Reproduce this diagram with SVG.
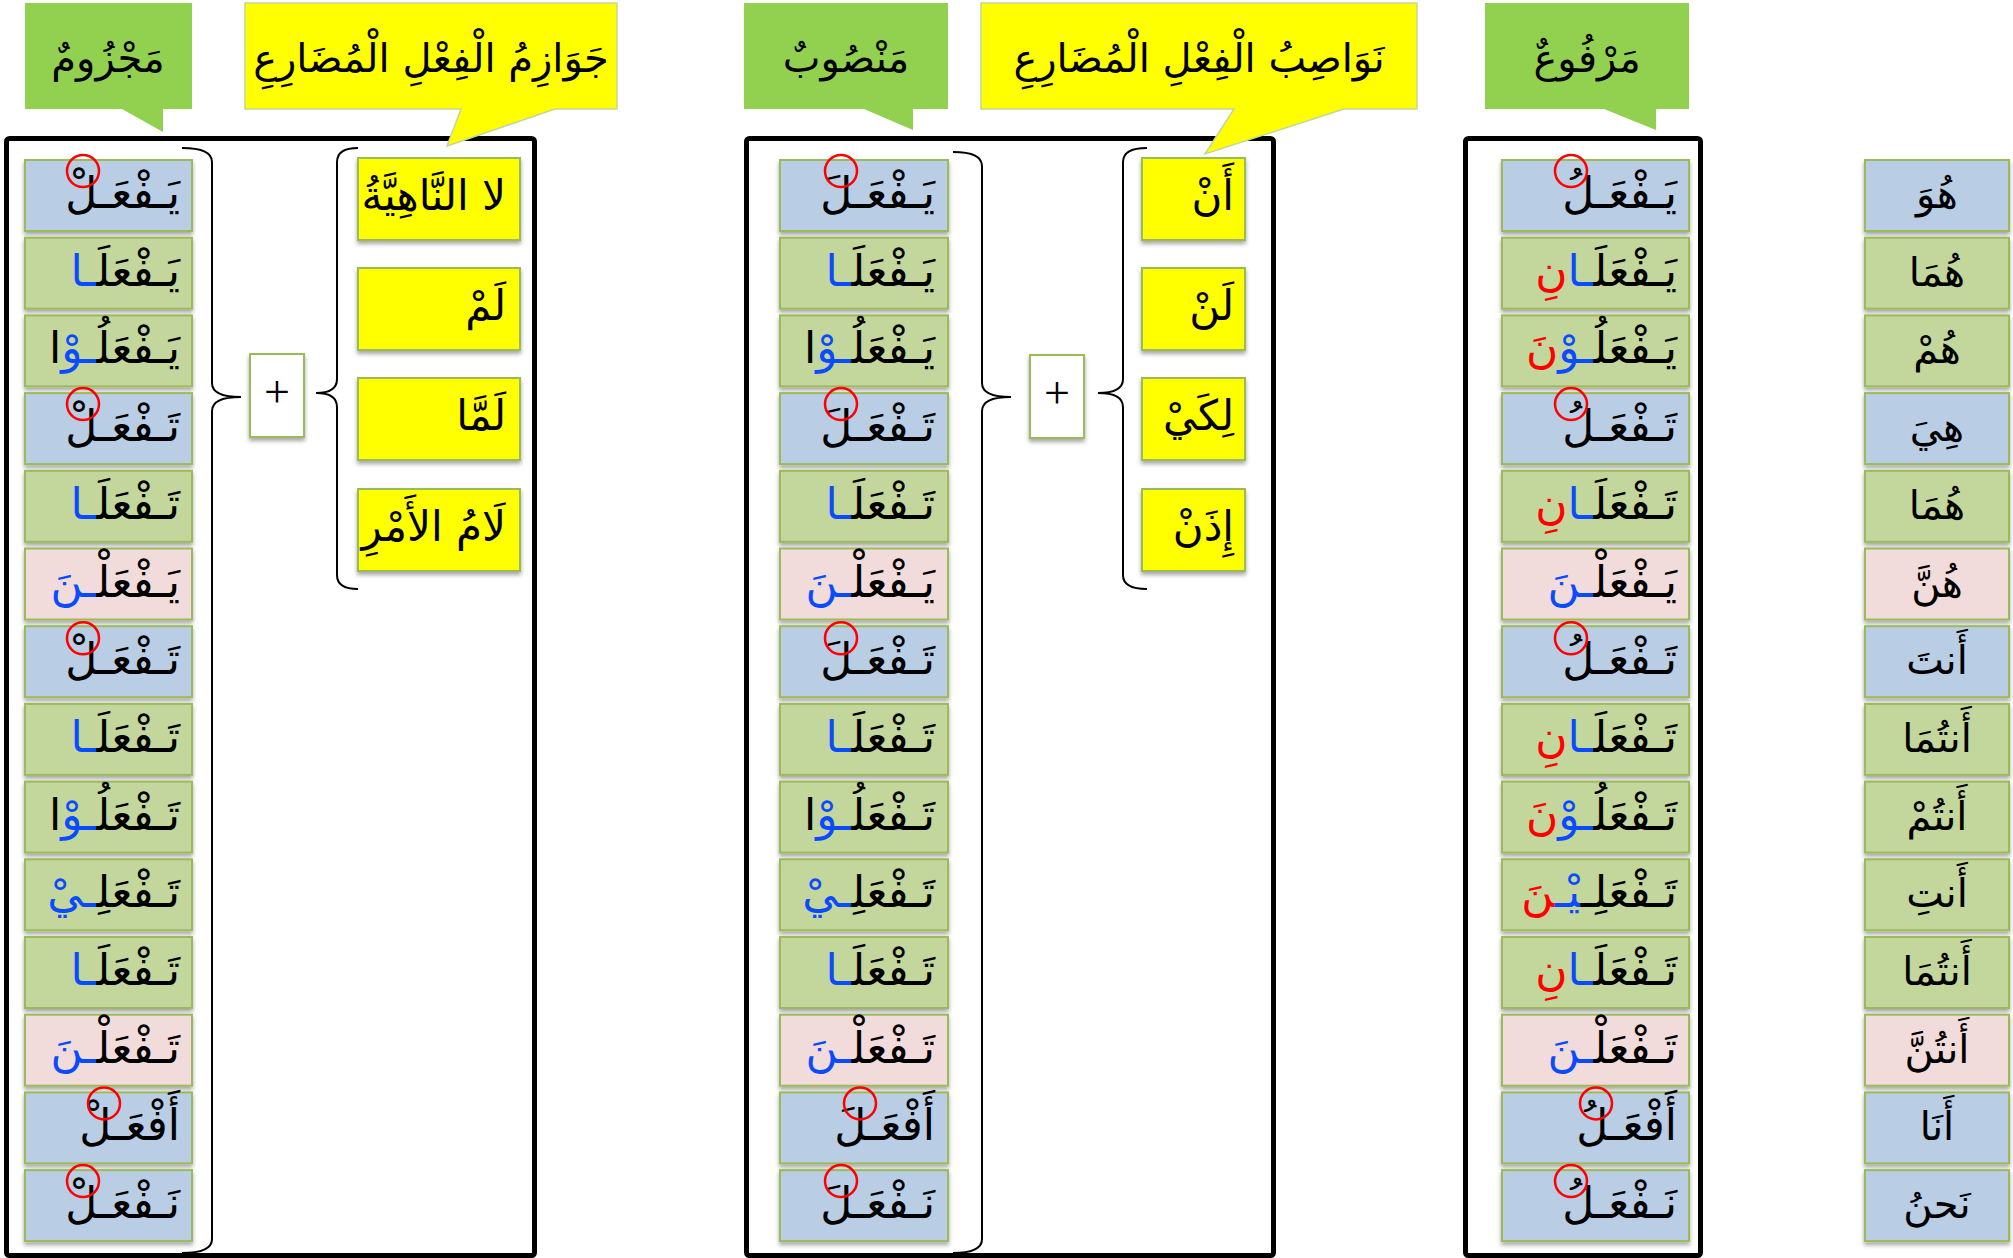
<svg xmlns="http://www.w3.org/2000/svg" width="2013" height="1258" viewBox="0 0 2013 1258">
<defs>
<filter id="sh" x="-10%" y="-10%" width="120%" height="130%"><feDropShadow dx="0" dy="3" stdDeviation="2" flood-color="#000" flood-opacity="0.35"/></filter>
<style>
.box{stroke:#9BBB59;stroke-width:2;filter:url(#sh)}
.b{fill:#B9CDE5}.g{fill:#C3D69B}.p{fill:#F2DCDB}.y{fill:#FFFF00}.w{fill:#FFFFFF}
.ar{font-family:"DejaVu Sans",sans-serif;font-size:44px;fill:#000;text-anchor:end}
.yi{font-family:"DejaVu Sans",sans-serif;font-size:42px;fill:#000;text-anchor:end}
.pr{font-family:"DejaVu Sans",sans-serif;font-size:40px;fill:#000;text-anchor:middle}
.ti{font-family:"DejaVu Sans",sans-serif;font-size:40px;fill:#000;text-anchor:middle}
.bl{fill:#0A4BFF}.rd{fill:#FF0000}
.frame{fill:none;stroke:#000;stroke-width:5}
.brace{fill:none;stroke:#000;stroke-width:2}
.ring{fill:none;stroke:#FF0000;stroke-width:2.5}
.gc{fill:#92D050}.yc{fill:#FFFF00;stroke:#C3D69B;stroke-width:1.5}
.plus{font-family:"Liberation Serif",serif;font-size:46px;fill:#000;text-anchor:middle}
</style>
</defs>
<rect width="2013" height="1258" fill="#FFFFFF"/>

<g id="frames">
<rect class="frame" x="6.5" y="138.5" width="528" height="1117" rx="3"/>
<rect class="frame" x="746.5" y="138.5" width="527" height="1117" rx="3"/>
<rect class="frame" x="1465.5" y="138.5" width="235" height="1117" rx="3"/>
</g>

<g id="connectors">
<path class="brace" d="M182,148 Q212,148 212,162 L212,383 Q212,397 241,397 Q212,397 212,411 L212,1239 Q212,1253 182,1253"/>
<path class="brace" d="M358,148 Q337,148 337,162 L337,379 Q337,393 316,393 Q337,393 337,407 L337,575 Q337,589 358,589"/>
<path class="brace" d="M953,152 Q982,152 982,166 L982,383 Q982,397 1011,397 Q982,397 982,411 L982,1239 Q982,1253 953,1253"/>
<path class="brace" d="M1147,148 Q1123,148 1123,162 L1123,379 Q1123,393 1098,393 Q1123,393 1123,407 L1123,575 Q1123,589 1147,589"/>
</g>

<g id="callout-majzum"><path class="gc" d="M25,3 H192 V109 H163 V132 L122,109 H25 Z"/><text class="ti" x="108" y="72">مَجْزُومٌ</text></g>
<g id="callout-jawazim"><path class="yc" d="M245,3 H617 V109 H555 L447,146 L461,109 H245 Z"/><text class="ti" x="431" y="72">جَوَازِمُ الْفِعْلِ الْمُضَارِعِ</text></g>
<g id="callout-mansub"><path class="gc" d="M744,3 H948 V109 H913 V130 L864,109 H744 Z"/><text class="ti" x="846" y="72">مَنْصُوبٌ</text></g>
<g id="callout-nawasib"><path class="yc" d="M981,3 H1417 V109 H1344 L1205,154 L1234,109 H981 Z"/><text class="ti" x="1199" y="72">نَوَاصِبُ الْفِعْلِ الْمُضَارِعِ</text></g>
<g id="callout-marfu"><path class="gc" d="M1485,3 H1689 V109 H1656 V130 L1604,109 H1485 Z"/><text class="ti" x="1587" y="72">مَرْفُوعٌ</text></g>

<g id="plus-1"><rect class="box w" x="250" y="354" width="54" height="83"/><text class="plus" x="277" y="407">+</text></g>
<g id="plus-2"><rect class="box w" x="1030" y="355" width="54" height="83"/><text class="plus" x="1057" y="408">+</text></g>

<g id="jazim-1"><rect class="box y" x="358" y="158" width="162" height="82"/><text class="yi" x="506" y="210" font-size="40">لا النَّاهِيَّةُ</text></g>
<g id="jazim-2"><rect class="box y" x="358" y="268" width="162" height="82"/><text class="yi" x="506" y="320">لَمْ</text></g>
<g id="jazim-3"><rect class="box y" x="358" y="378" width="162" height="82"/><text class="yi" x="506" y="430">لَمَّا</text></g>
<g id="jazim-4"><rect class="box y" x="358" y="489" width="162" height="82"/><text class="yi" x="506" y="541" font-size="48">لَامُ الأَمْرِ</text></g>

<g id="nasib-1"><rect class="box y" x="1142" y="158" width="103" height="82"/><text class="yi" x="1234" y="210">أَنْ</text></g>
<g id="nasib-2"><rect class="box y" x="1142" y="268" width="103" height="82"/><text class="yi" x="1234" y="320">لَنْ</text></g>
<g id="nasib-3"><rect class="box y" x="1142" y="378" width="103" height="82"/><text class="yi" x="1234" y="430">لِكَيْ</text></g>
<g id="nasib-4"><rect class="box y" x="1142" y="489" width="103" height="82"/><text class="yi" x="1234" y="541">إِذَنْ</text></g>

<!-- majzum column -->
<g id="jz-1"><rect class="box b" x="25" y="160" width="167" height="71"/><text class="ar" x="180" y="208">يَـفْعَـلْ</text><circle class="ring" cx="83" cy="171" r="16"/></g>
<g id="jz-2"><rect class="box g" x="25" y="237.7" width="167" height="71"/><text class="ar" x="180" y="285.7">يَـفْعَلَ<tspan class="bl">ـا</tspan></text></g>
<g id="jz-3"><rect class="box g" x="25" y="315.4" width="167" height="71"/><text class="ar" x="180" y="363.4">يَـفْعَلُ<tspan class="bl">ـوْ</tspan>ا</text></g>
<g id="jz-4"><rect class="box b" x="25" y="393.1" width="167" height="71"/><text class="ar" x="180" y="441.1">تَـفْعَـلْ</text><circle class="ring" cx="83" cy="404.1" r="16"/></g>
<g id="jz-5"><rect class="box g" x="25" y="470.8" width="167" height="71"/><text class="ar" x="180" y="518.8">تَـفْعَلَ<tspan class="bl">ـا</tspan></text></g>
<g id="jz-6"><rect class="box p" x="25" y="548.5" width="167" height="71"/><text class="ar" x="180" y="596.5">يَـفْعَلْ<tspan class="bl">ـنَ</tspan></text></g>
<g id="jz-7"><rect class="box b" x="25" y="626.2" width="167" height="71"/><text class="ar" x="180" y="674.2">تَـفْعَـلْ</text><circle class="ring" cx="83" cy="638.2" r="16"/></g>
<g id="jz-8"><rect class="box g" x="25" y="703.9" width="167" height="71"/><text class="ar" x="180" y="751.9">تَـفْعَلَ<tspan class="bl">ـا</tspan></text></g>
<g id="jz-9"><rect class="box g" x="25" y="781.6" width="167" height="71"/><text class="ar" x="180" y="829.6">تَـفْعَلُ<tspan class="bl">ـوْ</tspan>ا</text></g>
<g id="jz-10"><rect class="box g" x="25" y="859.3" width="167" height="71"/><text class="ar" x="180" y="907.3">تَـفْعَلِ<tspan class="bl">ـيْ</tspan></text></g>
<g id="jz-11"><rect class="box g" x="25" y="937" width="167" height="71"/><text class="ar" x="180" y="985">تَـفْعَلَ<tspan class="bl">ـا</tspan></text></g>
<g id="jz-12"><rect class="box p" x="25" y="1014.7" width="167" height="71"/><text class="ar" x="180" y="1062.7">تَـفْعَلْ<tspan class="bl">ـنَ</tspan></text></g>
<g id="jz-13"><rect class="box b" x="25" y="1092.4" width="167" height="71"/><text class="ar" x="180" y="1140.4">أَفْعَـلْ</text><circle class="ring" cx="104" cy="1103.4" r="16"/></g>
<g id="jz-14"><rect class="box b" x="25" y="1170.1" width="167" height="71"/><text class="ar" x="180" y="1218.1">نَـفْعَـلْ</text><circle class="ring" cx="83" cy="1181.1" r="16"/></g>

<!-- mansub column -->
<g id="ns-1"><rect class="box b" x="780" y="160" width="168" height="71"/><text class="ar" x="935" y="208">يَـفْعَـلَ</text><circle class="ring" cx="841" cy="171" r="16"/></g>
<g id="ns-2"><rect class="box g" x="780" y="237.7" width="168" height="71"/><text class="ar" x="935" y="285.7">يَـفْعَلَ<tspan class="bl">ـا</tspan></text></g>
<g id="ns-3"><rect class="box g" x="780" y="315.4" width="168" height="71"/><text class="ar" x="935" y="363.4">يَـفْعَلُ<tspan class="bl">ـوْ</tspan>ا</text></g>
<g id="ns-4"><rect class="box b" x="780" y="393.1" width="168" height="71"/><text class="ar" x="935" y="441.1">تَـفْعَـلَ</text><circle class="ring" cx="841" cy="404.1" r="16"/></g>
<g id="ns-5"><rect class="box g" x="780" y="470.8" width="168" height="71"/><text class="ar" x="935" y="518.8">تَـفْعَلَ<tspan class="bl">ـا</tspan></text></g>
<g id="ns-6"><rect class="box p" x="780" y="548.5" width="168" height="71"/><text class="ar" x="935" y="596.5">يَـفْعَلْ<tspan class="bl">ـنَ</tspan></text></g>
<g id="ns-7"><rect class="box b" x="780" y="626.2" width="168" height="71"/><text class="ar" x="935" y="674.2">تَـفْعَـلَ</text><circle class="ring" cx="841" cy="638.2" r="16"/></g>
<g id="ns-8"><rect class="box g" x="780" y="703.9" width="168" height="71"/><text class="ar" x="935" y="751.9">تَـفْعَلَ<tspan class="bl">ـا</tspan></text></g>
<g id="ns-9"><rect class="box g" x="780" y="781.6" width="168" height="71"/><text class="ar" x="935" y="829.6">تَـفْعَلُ<tspan class="bl">ـوْ</tspan>ا</text></g>
<g id="ns-10"><rect class="box g" x="780" y="859.3" width="168" height="71"/><text class="ar" x="935" y="907.3">تَـفْعَلِ<tspan class="bl">ـيْ</tspan></text></g>
<g id="ns-11"><rect class="box g" x="780" y="937" width="168" height="71"/><text class="ar" x="935" y="985">تَـفْعَلَ<tspan class="bl">ـا</tspan></text></g>
<g id="ns-12"><rect class="box p" x="780" y="1014.7" width="168" height="71"/><text class="ar" x="935" y="1062.7">تَـفْعَلْ<tspan class="bl">ـنَ</tspan></text></g>
<g id="ns-13"><rect class="box b" x="780" y="1092.4" width="168" height="71"/><text class="ar" x="935" y="1140.4">أَفْعَـلَ</text><circle class="ring" cx="860" cy="1103.4" r="16"/></g>
<g id="ns-14"><rect class="box b" x="780" y="1170.1" width="168" height="71"/><text class="ar" x="935" y="1218.1">نَـفْعَـلَ</text><circle class="ring" cx="841" cy="1181.1" r="16"/></g>

<!-- marfu column -->
<g id="rf-1"><rect class="box b" x="1502" y="160" width="187" height="71"/><text class="ar" x="1677" y="208">يَـفْعَـلُ</text><circle class="ring" cx="1571" cy="171" r="16"/></g>
<g id="rf-2"><rect class="box g" x="1502" y="237.7" width="187" height="71"/><text class="ar" x="1677" y="285.7">يَـفْعَلَ<tspan class="bl">ـا</tspan><tspan class="rd">نِ</tspan></text></g>
<g id="rf-3"><rect class="box g" x="1502" y="315.4" width="187" height="71"/><text class="ar" x="1677" y="363.4">يَـفْعَلُ<tspan class="bl">ـوْ</tspan><tspan class="rd">نَ</tspan></text></g>
<g id="rf-4"><rect class="box b" x="1502" y="393.1" width="187" height="71"/><text class="ar" x="1677" y="441.1">تَـفْعَـلُ</text><circle class="ring" cx="1571" cy="404.1" r="16"/></g>
<g id="rf-5"><rect class="box g" x="1502" y="470.8" width="187" height="71"/><text class="ar" x="1677" y="518.8">تَـفْعَلَ<tspan class="bl">ـا</tspan><tspan class="rd">نِ</tspan></text></g>
<g id="rf-6"><rect class="box p" x="1502" y="548.5" width="187" height="71"/><text class="ar" x="1677" y="596.5">يَـفْعَلْ<tspan class="bl">ـنَ</tspan></text></g>
<g id="rf-7"><rect class="box b" x="1502" y="626.2" width="187" height="71"/><text class="ar" x="1677" y="674.2">تَـفْعَـلُ</text><circle class="ring" cx="1571" cy="638.2" r="16"/></g>
<g id="rf-8"><rect class="box g" x="1502" y="703.9" width="187" height="71"/><text class="ar" x="1677" y="751.9">تَـفْعَلَ<tspan class="bl">ـا</tspan><tspan class="rd">نِ</tspan></text></g>
<g id="rf-9"><rect class="box g" x="1502" y="781.6" width="187" height="71"/><text class="ar" x="1677" y="829.6">تَـفْعَلُ<tspan class="bl">ـوْ</tspan><tspan class="rd">نَ</tspan></text></g>
<g id="rf-10"><rect class="box g" x="1502" y="859.3" width="187" height="71"/><text class="ar" x="1677" y="907.3">تَـفْعَلِـ<tspan class="bl">يْـ</tspan><tspan class="rd">نَ</tspan></text></g>
<g id="rf-11"><rect class="box g" x="1502" y="937" width="187" height="71"/><text class="ar" x="1677" y="985">تَـفْعَلَ<tspan class="bl">ـا</tspan><tspan class="rd">نِ</tspan></text></g>
<g id="rf-12"><rect class="box p" x="1502" y="1014.7" width="187" height="71"/><text class="ar" x="1677" y="1062.7">تَـفْعَلْ<tspan class="bl">ـنَ</tspan></text></g>
<g id="rf-13"><rect class="box b" x="1502" y="1092.4" width="187" height="71"/><text class="ar" x="1677" y="1140.4">أَفْعَـلُ</text><circle class="ring" cx="1596" cy="1103.4" r="16"/></g>
<g id="rf-14"><rect class="box b" x="1502" y="1170.1" width="187" height="71"/><text class="ar" x="1677" y="1218.1">نَـفْعَـلُ</text><circle class="ring" cx="1571" cy="1181.1" r="16"/></g>

<!-- pronouns -->
<g id="pr-1"><rect class="box b" x="1865" y="160" width="144" height="71"/><text class="pr" x="1937" y="208">هُوَ</text></g>
<g id="pr-2"><rect class="box g" x="1865" y="237.7" width="144" height="71"/><text class="pr" x="1937" y="285.7">هُمَا</text></g>
<g id="pr-3"><rect class="box g" x="1865" y="315.4" width="144" height="71"/><text class="pr" x="1937" y="363.4">هُمْ</text></g>
<g id="pr-4"><rect class="box b" x="1865" y="393.1" width="144" height="71"/><text class="pr" x="1937" y="441.1">هِيَ</text></g>
<g id="pr-5"><rect class="box g" x="1865" y="470.8" width="144" height="71"/><text class="pr" x="1937" y="518.8">هُمَا</text></g>
<g id="pr-6"><rect class="box p" x="1865" y="548.5" width="144" height="71"/><text class="pr" x="1937" y="596.5">هُنَّ</text></g>
<g id="pr-7"><rect class="box b" x="1865" y="626.2" width="144" height="71"/><text class="pr" x="1937" y="674.2">أَنتَ</text></g>
<g id="pr-8"><rect class="box g" x="1865" y="703.9" width="144" height="71"/><text class="pr" x="1937" y="751.9">أَنتُمَا</text></g>
<g id="pr-9"><rect class="box g" x="1865" y="781.6" width="144" height="71"/><text class="pr" x="1937" y="829.6">أَنتُمْ</text></g>
<g id="pr-10"><rect class="box g" x="1865" y="859.3" width="144" height="71"/><text class="pr" x="1937" y="907.3">أَنتِ</text></g>
<g id="pr-11"><rect class="box g" x="1865" y="937" width="144" height="71"/><text class="pr" x="1937" y="985">أَنتُمَا</text></g>
<g id="pr-12"><rect class="box p" x="1865" y="1014.7" width="144" height="71"/><text class="pr" x="1937" y="1062.7">أَنتُنَّ</text></g>
<g id="pr-13"><rect class="box b" x="1865" y="1092.4" width="144" height="71"/><text class="pr" x="1937" y="1140.4">أَنَا</text></g>
<g id="pr-14"><rect class="box b" x="1865" y="1170.1" width="144" height="71"/><text class="pr" x="1937" y="1218.1">نَحنُ</text></g>
</svg>
